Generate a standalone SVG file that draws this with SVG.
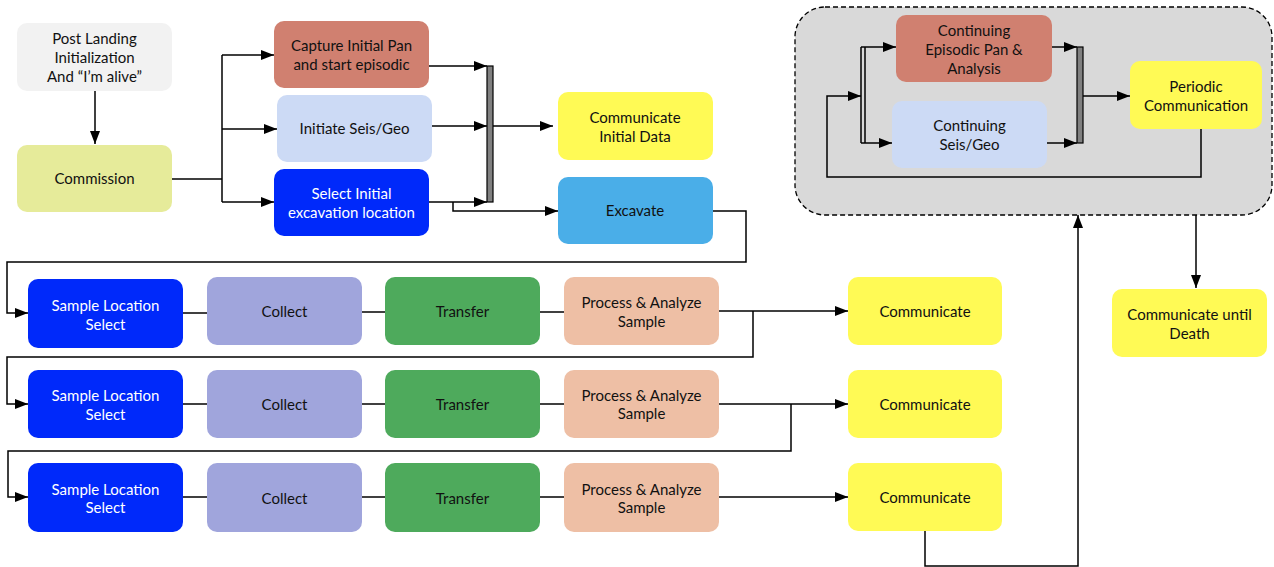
<svg xmlns="http://www.w3.org/2000/svg" width="1274" height="567" viewBox="0 0 1274 567">
<style>
.box{stroke:none}
.t{font-family:Lato,"Liberation Sans",sans-serif;font-size:15px;fill:#111;text-anchor:middle}
.w{fill:#ffffff}
.ln{fill:none;stroke:#000;stroke-width:1.5}
.ar{fill:none;stroke:#000;stroke-width:1.5;marker-end:url(#ah)}
.bar{fill:#808080;stroke:#000;stroke-width:1.2}
</style>
<defs>
<marker id="ah" markerUnits="userSpaceOnUse" markerWidth="14" markerHeight="11" refX="13" refY="5" orient="auto">
<path d="M0,0 L13,5 L0,10 z" fill="#000"/>
</marker>
</defs>
<rect width="1274" height="567" fill="#fff"/>

<g id="group-continuing">
<rect x="795" y="7" width="477" height="208" rx="30" fill="#D9D9D9" stroke="#000" stroke-width="1.3" stroke-dasharray="5,3"/>
</g>

<g id="connectors">
<path class="ar" d="M95,91 V144"/>
<path class="ln" d="M172,179 H222"/>
<path class="ln" d="M222,55 V202"/>
<path class="ar" d="M222,55 H274"/>
<path class="ar" d="M222,129 H277"/>
<path class="ar" d="M222,202 H274"/>
<path class="ar" d="M429,66 H487"/>
<path class="ar" d="M432,126 H487"/>
<path class="ar" d="M429,202 H487"/>
<path class="ar" d="M493,126 H553"/>
<path class="ar" d="M453,202 V211 H558"/>
<path class="ar" d="M712,211 H746 V262 H7 V313 H28"/>
<path class="ln" d="M183,313 H207"/>
<path class="ln" d="M362,312 H385"/>
<path class="ln" d="M540,312 H564"/>
<path class="ar" d="M719,311 H848"/>
<path class="ar" d="M753,311 V357 H7 V404 H28"/>
<path class="ln" d="M183,404 H207"/>
<path class="ln" d="M362,404 H385"/>
<path class="ln" d="M540,404 H564"/>
<path class="ar" d="M719,404 H848"/>
<path class="ar" d="M791,404 V451 H8 V497 H28"/>
<path class="ln" d="M183,497 H207"/>
<path class="ln" d="M362,497 H385"/>
<path class="ln" d="M540,497 H564"/>
<path class="ar" d="M719,497 H848"/>
<path class="ar" d="M925,531 V566 H1078 V215"/>
<path class="ar" d="M1196,215 V288"/>
<path class="ln" d="M861,47 V143 M865,47 V143"/>
<path class="ar" d="M861,47 H896"/>
<path class="ar" d="M861,143 H892"/>
<path class="ar" d="M1201,129 V177 H827 V96 H861"/>
<path class="ar" d="M1052,47 H1077"/>
<path class="ar" d="M1047,143 H1077"/>
<path class="ar" d="M1080,96 H1130"/>
</g>

<g id="bars">
<rect class="bar" x="487" y="66" width="6" height="136"/>
<rect class="bar" x="1077" y="47" width="6" height="96"/>
</g>

<g id="post-landing"><rect class="box" x="17" y="23" width="155" height="68" rx="10" fill="#F2F2F2"/>
<text class="t" x="94.5" y="44">Post Landing</text><text class="t" x="94.5" y="63">Initialization</text><text class="t" x="94.5" y="82">And “I’m alive”</text></g>
<g id="commission"><rect class="box" x="17" y="145" width="155" height="67" rx="10" fill="#E6EB9A"/>
<text class="t" x="94.5" y="184">Commission</text></g>
<g id="capture"><rect class="box" x="274" y="21" width="155" height="67" rx="10" fill="#D08070"/>
<text class="t" x="351.5" y="51">Capture Initial Pan</text><text class="t" x="351.5" y="70">and start episodic</text></g>
<g id="initiate"><rect class="box" x="277" y="95" width="155" height="67" rx="10" fill="#CCDAF5"/>
<text class="t" x="354.5" y="134">Initiate Seis/Geo</text></g>
<g id="select-initial"><rect class="box" x="274" y="169" width="155" height="67" rx="10" fill="#0029FA"/>
<text class="t w" x="351.5" y="199">Select Initial</text><text class="t w" x="351.5" y="218">excavation location</text></g>
<g id="comm-initial"><rect class="box" x="558" y="92" width="155" height="68" rx="10" fill="#FFFA55"/>
<text class="t" x="635" y="123">Communicate</text><text class="t" x="635" y="142">Initial Data</text></g>
<g id="excavate"><rect class="box" x="558" y="177" width="155" height="67" rx="10" fill="#4AAEE8"/>
<text class="t" x="635" y="216">Excavate</text></g>

<g id="sample1"><rect class="box" x="28" y="279" width="155" height="69" rx="10" fill="#0029FA"/>
<text class="t w" x="105.5" y="311">Sample Location</text><text class="t w" x="105.5" y="330">Select</text></g>
<g id="collect1"><rect class="box" x="207" y="277" width="155" height="68" rx="10" fill="#A0A5DC"/>
<text class="t" x="284.5" y="317">Collect</text></g>
<g id="transfer1"><rect class="box" x="385" y="277" width="155" height="68" rx="10" fill="#4EAA5C"/>
<text class="t" x="462.5" y="317">Transfer</text></g>
<g id="process1"><rect class="box" x="564" y="277" width="155" height="68" rx="10" fill="#EEBFA5"/>
<text class="t" x="641.5" y="308">Process &amp; Analyze</text><text class="t" x="641.5" y="327">Sample</text></g>
<g id="communicate1"><rect class="box" x="848" y="277" width="154" height="68" rx="10" fill="#FFFA55"/>
<text class="t" x="925" y="317">Communicate</text></g>

<g id="sample2"><rect class="box" x="28" y="370" width="155" height="68" rx="10" fill="#0029FA"/>
<text class="t w" x="105.5" y="401">Sample Location</text><text class="t w" x="105.5" y="420">Select</text></g>
<g id="collect2"><rect class="box" x="207" y="370" width="155" height="68" rx="10" fill="#A0A5DC"/>
<text class="t" x="284.5" y="410">Collect</text></g>
<g id="transfer2"><rect class="box" x="385" y="370" width="155" height="68" rx="10" fill="#4EAA5C"/>
<text class="t" x="462.5" y="410">Transfer</text></g>
<g id="process2"><rect class="box" x="564" y="370" width="155" height="68" rx="10" fill="#EEBFA5"/>
<text class="t" x="641.5" y="401">Process &amp; Analyze</text><text class="t" x="641.5" y="419">Sample</text></g>
<g id="communicate2"><rect class="box" x="848" y="370" width="154" height="68" rx="10" fill="#FFFA55"/>
<text class="t" x="925" y="410">Communicate</text></g>

<g id="sample3"><rect class="box" x="28" y="463" width="155" height="69" rx="10" fill="#0029FA"/>
<text class="t w" x="105.5" y="495">Sample Location</text><text class="t w" x="105.5" y="513">Select</text></g>
<g id="collect3"><rect class="box" x="207" y="463" width="155" height="69" rx="10" fill="#A0A5DC"/>
<text class="t" x="284.5" y="504">Collect</text></g>
<g id="transfer3"><rect class="box" x="385" y="463" width="155" height="69" rx="10" fill="#4EAA5C"/>
<text class="t" x="462.5" y="504">Transfer</text></g>
<g id="process3"><rect class="box" x="564" y="463" width="155" height="69" rx="10" fill="#EEBFA5"/>
<text class="t" x="641.5" y="495">Process &amp; Analyze</text><text class="t" x="641.5" y="513">Sample</text></g>
<g id="communicate3"><rect class="box" x="848" y="463" width="154" height="68" rx="10" fill="#FFFA55"/>
<text class="t" x="925" y="503">Communicate</text></g>

<g id="cont-pan"><rect class="box" x="896" y="15" width="156" height="67" rx="10" fill="#D08070"/>
<text class="t" x="974" y="36">Continuing</text><text class="t" x="974" y="55">Episodic Pan &amp;</text><text class="t" x="974" y="74">Analysis</text></g>
<g id="cont-seis"><rect class="box" x="892" y="101" width="155" height="67" rx="10" fill="#CCDAF5"/>
<text class="t" x="969.5" y="131">Continuing</text><text class="t" x="969.5" y="150">Seis/Geo</text></g>
<g id="periodic"><rect class="box" x="1130" y="61" width="132" height="68" rx="10" fill="#FFFA55"/>
<text class="t" x="1196" y="92">Periodic</text><text class="t" x="1196" y="111">Communication</text></g>
<g id="comm-death"><rect class="box" x="1112" y="289" width="155" height="68" rx="10" fill="#FFFA55"/>
<text class="t" x="1189.5" y="320">Communicate until</text><text class="t" x="1189.5" y="339">Death</text></g>
</svg>
